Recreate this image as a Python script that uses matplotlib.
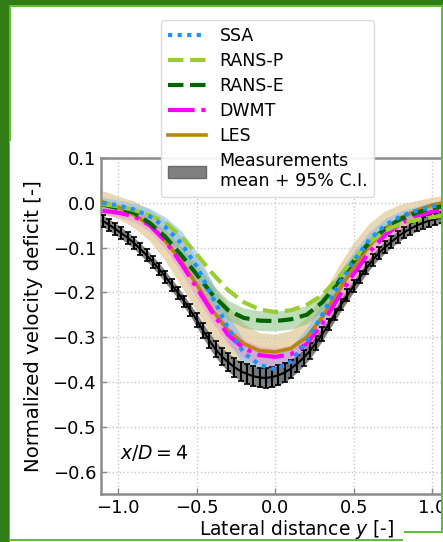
import numpy as np
import matplotlib
matplotlib.use("Agg")
import matplotlib.pyplot as plt
from matplotlib.patches import Patch, Rectangle
from matplotlib.lines import Line2D

# ---------------- data ----------------
y_model = [-1.1, -1.0, -0.9, -0.8, -0.7, -0.6, -0.5, -0.4, -0.3, -0.2, -0.1, 0.0,
           0.1, 0.2, 0.3, 0.4, 0.5, 0.6, 0.7, 0.8, 0.9, 1.0, 1.1]

ssa = [0.0, -0.006, -0.015, -0.03, -0.054, -0.09, -0.142, -0.21, -0.28, -0.335, -0.362, -0.372,
       -0.355, -0.31, -0.25, -0.185, -0.13, -0.082, -0.05, -0.03, -0.018, -0.008, -0.002]
ssa_ci = [0.012, 0.012, 0.014, 0.018, 0.022, 0.028, 0.032, 0.032, 0.03, 0.028, 0.03, 0.035,
          0.035, 0.03, 0.028, 0.025, 0.022, 0.018, 0.015, 0.012, 0.01, 0.01, 0.01]

rans_p = [-0.003, -0.008, -0.016, -0.028, -0.044, -0.075, -0.115, -0.158, -0.195, -0.222, -0.238, -0.244,
          -0.24, -0.228, -0.206, -0.168, -0.125, -0.088, -0.062, -0.047, -0.038, -0.032, -0.028]

rans_e = [-0.004, -0.012, -0.022, -0.045, -0.076, -0.116, -0.16, -0.205, -0.24, -0.257, -0.263, -0.264,
          -0.26, -0.25, -0.222, -0.178, -0.13, -0.088, -0.058, -0.036, -0.022, -0.012, -0.006]
rans_e_ci = [0.008, 0.008, 0.01, 0.012, 0.015, 0.018, 0.02, 0.022, 0.022, 0.022, 0.022, 0.022,
             0.022, 0.02, 0.02, 0.018, 0.015, 0.012, 0.01, 0.008, 0.008, 0.008, 0.008]

dwmt = [-0.018, -0.022, -0.03, -0.05, -0.085, -0.135, -0.19, -0.245, -0.295, -0.325, -0.34, -0.344,
        -0.338, -0.315, -0.27, -0.213, -0.158, -0.11, -0.072, -0.046, -0.03, -0.02, -0.014]
dwmt_ci = [0.01, 0.01, 0.012, 0.015, 0.018, 0.02, 0.022, 0.022, 0.022, 0.02, 0.02, 0.02,
           0.02, 0.02, 0.022, 0.022, 0.02, 0.018, 0.015, 0.012, 0.01, 0.01, 0.01]

les = [0.002, -0.01, -0.026, -0.05, -0.085, -0.13, -0.183, -0.24, -0.285, -0.315, -0.33, -0.333,
       -0.325, -0.3, -0.255, -0.198, -0.143, -0.095, -0.058, -0.033, -0.017, -0.005, 0.002]
les_ci = [0.025, 0.025, 0.03, 0.035, 0.045, 0.055, 0.06, 0.06, 0.055, 0.045, 0.04, 0.04,
          0.04, 0.045, 0.05, 0.055, 0.055, 0.05, 0.04, 0.03, 0.022, 0.018, 0.015]

y_meas = [-1.10, -1.06, -1.02, -0.98, -0.94, -0.90, -0.86, -0.82, -0.78, -0.74, -0.70,
          -0.66, -0.62, -0.58, -0.54, -0.50, -0.46, -0.42, -0.38, -0.34, -0.30, -0.26,
          -0.22, -0.18, -0.14, -0.10, -0.06, -0.02, 0.02, 0.06, 0.10, 0.14, 0.18, 0.22,
          0.26, 0.30, 0.34, 0.38, 0.42, 0.46, 0.50, 0.54, 0.58, 0.62, 0.66, 0.70, 0.74,
          0.78, 0.82, 0.86, 0.90, 0.94, 0.98, 1.02, 1.06]
meas = [-0.040, -0.049, -0.058, -0.068, -0.078, -0.090, -0.103, -0.117, -0.132, -0.148, -0.165,
        -0.183, -0.201, -0.220, -0.240, -0.262, -0.285, -0.307, -0.327, -0.343, -0.356, -0.367,
        -0.376, -0.382, -0.387, -0.390, -0.391, -0.389, -0.385, -0.379, -0.370, -0.359, -0.346,
        -0.331, -0.313, -0.293, -0.272, -0.249, -0.227, -0.206, -0.186, -0.166, -0.146, -0.128,
        -0.112, -0.099, -0.087, -0.076, -0.066, -0.058, -0.051, -0.045, -0.040, -0.036, -0.033]
meas_ci = [0.013] * 15 + [0.015, 0.016, 0.017, 0.018, 0.019, 0.02, 0.021, 0.021, 0.022, 0.022,
                          0.022, 0.022, 0.022, 0.022, 0.021, 0.02, 0.019, 0.018, 0.017, 0.016,
                          0.015] + [0.013] * 19

xticks = [-1.0, -0.5, 0.0, 0.5, 1.0]
yticks = [0.1, 0.0, -0.1, -0.2, -0.3, -0.4, -0.5, -0.6]

# ---------------- figure ----------------
W, H = 443, 542
fig = plt.figure(figsize=(W / 100, H / 100), dpi=100)
fig.patch.set_facecolor("white")

# axes extends past the right edge of the (cropped) picture
ax = fig.add_axes([101 / W, 48 / H, 392 / W, 336 / H])
ax.set_xlim(-1.11, 1.387)
ax.set_ylim(-0.65, 0.1)

ym = np.array(y_model)

def band(vals, ci, color, alpha):
    v = np.array(vals); c = np.array(ci)
    ax.fill_between(ym, v - c, v + c, color=color, alpha=alpha, lw=0, zorder=1)

band(les, les_ci, "#d9b878", 0.55)
band(ssa, ssa_ci, "#7fbbef", 0.55)
band(rans_e, rans_e_ci, "#7ebd78", 0.5)
band(dwmt, dwmt_ci, "#f08ad8", 0.45)

mv = np.array(meas); mc = np.array(meas_ci)
ax.fill_between(y_meas, mv - mc, mv + mc, color="#555555", alpha=0.75, lw=0, zorder=2)
ax.errorbar(y_meas, meas, yerr=meas_ci, color="black", lw=1.5, elinewidth=1.5,
            capsize=2, capthick=1.2, zorder=3)

ax.plot(ym, les, color="darkgoldenrod", lw=2.6, zorder=4)
ax.plot(ym, dwmt, color="magenta", lw=3, ls="-.", zorder=5)
ax.plot(ym, rans_e, color="darkgreen", lw=3, ls="--", zorder=5)
ax.plot(ym, rans_p, color="yellowgreen", lw=3, ls="--", zorder=5)
ax.plot(ym, ssa, color="dodgerblue", lw=3, ls=(0, (1, 1.3)), zorder=6)

ax.set_xticks(xticks)
ax.set_yticks(yticks)
ax.set_xticklabels([f"{t:.1f}".replace("-", "\u2212") for t in xticks])
ax.set_yticklabels([f"{t:.1f}".replace("-", "\u2212") for t in yticks])
ax.tick_params(direction="in", labelsize=13, color="#888888", length=4, width=1)
ax.grid(True, ls=":", color="#c8c8c8", lw=1)
for s in ax.spines.values():
    s.set_color("#8a8a8a")
    s.set_linewidth(1.8)

ax.set_xlabel("Lateral distance $y$ [-]", fontsize=13.5, labelpad=1)
ax.set_ylabel("Normalized velocity deficit [-]", fontsize=14.2, labelpad=7)
ax.text(-0.99, -0.558, "$x/D = 4$", fontsize=13.5, va="center", ha="left")

handles = [
    Line2D([], [], color="dodgerblue", lw=3, ls=(0, (1, 1.3))),
    Line2D([], [], color="yellowgreen", lw=3, ls="--"),
    Line2D([], [], color="darkgreen", lw=3, ls="--"),
    Line2D([], [], color="magenta", lw=3, ls="-."),
    Line2D([], [], color="darkgoldenrod", lw=2.6),
    Patch(facecolor="#808080", edgecolor="#6a6a6a"),
]
labels = ["SSA", "RANS-P", "RANS-E", "DWMT", "LES", "Measurements\nmean + 95% C.I."]
leg = ax.legend(handles, labels, loc="upper center", bbox_to_anchor=(267.5 / W, 1 - 20 / H),
                bbox_transform=fig.transFigure, borderaxespad=0, fontsize=12.5,
                labelspacing=0.4, handlelength=2.2, framealpha=0.9, edgecolor="#d8d8d8")
leg.set_zorder(10)

# ---------------- green frame ----------------
dark = "#2f7d14"
light = "#5fbf35"
def rect(x, y, w, h, c):
    fig.patches.append(Rectangle((x / W, 1 - (y + h) / H), w / W, h / H,
                                 transform=fig.transFigure, color=c, lw=0, zorder=20))
rect(0, 0, 9, H, dark)
rect(0, 0, W, 5, dark)
rect(9, 5, W - 9, 2, light)
rect(9, 5, 2, 136, light)
rect(9, 141, 1.2, H - 141, light)
rect(441, 5, 2, 527, light)
rect(404, 531, 39, 1.5, light)
rect(10, 539, 393, 2, light)

fig.savefig("out.png", dpi=100)
